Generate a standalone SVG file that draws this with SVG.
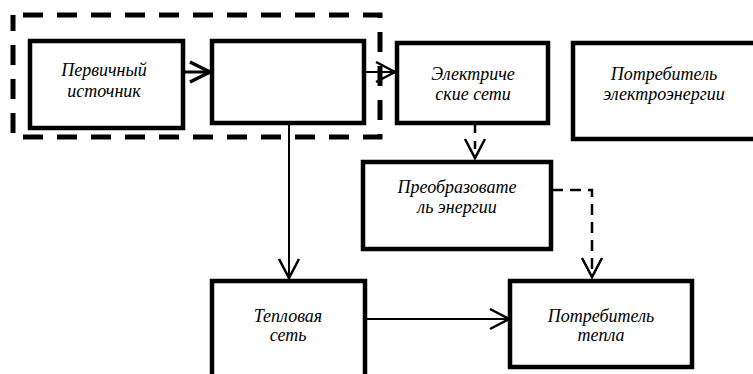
<svg xmlns="http://www.w3.org/2000/svg" width="753" height="374" viewBox="0 0 753 374">
<style>
.box{fill:#fff;stroke:#000;stroke-width:4.5}
text{font-family:'Liberation Serif','Times New Roman',serif;font-style:italic;font-size:18px;fill:#000;text-anchor:middle}
.ln{fill:none;stroke:#000;stroke-width:2}
.dl{fill:none;stroke:#000;stroke-width:2.5;stroke-dasharray:11 7}
</style>
<defs>
<marker id="ah" viewBox="-23 -13 26 26" refX="0" refY="0" markerWidth="26" markerHeight="26" markerUnits="userSpaceOnUse" orient="auto">
<path d="M-19,-10 L0,0 L-19,10" fill="none" stroke="#000" stroke-width="2.5"/>
</marker>
<marker id="ahb" viewBox="-23 -13 26 26" refX="0" refY="0" markerWidth="26" markerHeight="26" markerUnits="userSpaceOnUse" orient="auto">
<path d="M-20,-10 L0,0 L-20,10" fill="none" stroke="#000" stroke-width="3.5"/>
</marker>
</defs>
<rect width="753" height="374" fill="#fff"/>
<g id="group-frame">
<rect x="13" y="15" width="367" height="122" fill="none" stroke="#000" stroke-width="5" stroke-dasharray="20 14" stroke-dashoffset="-10"/>
</g>
<g id="connectors">
<line x1="183" y1="72" x2="210" y2="72" stroke="#000" stroke-width="3" marker-end="url(#ahb)"/>
<line x1="365" y1="72" x2="395" y2="72" class="ln" marker-end="url(#ah)"/>
<line x1="289" y1="125" x2="289" y2="278" class="ln" marker-end="url(#ah)"/>
<line x1="366" y1="319" x2="509" y2="319" class="ln" marker-end="url(#ah)"/>
<line x1="475" y1="125" x2="475" y2="158" stroke="#000" stroke-width="2.5" stroke-dasharray="8 8" marker-end="url(#ah)"/>
<polyline points="552,190 592,190 592,277" class="dl" marker-end="url(#ah)"/>
</g>
<g id="n1"><rect x="30" y="41" width="153" height="87" class="box"/>
<text x="104" y="76">Первичный</text><text x="104" y="97">источник</text></g>
<g id="n2"><rect x="212" y="41" width="152" height="82" class="box"/></g>
<g id="n3"><rect x="397" y="43" width="151" height="80" class="box"/>
<text x="473" y="80">Электриче</text><text x="473" y="100">ские сети</text></g>
<g id="n4"><rect x="573" y="43" width="190" height="96" class="box"/>
<text x="664" y="80">Потребитель</text><text x="664" y="100">электроэнергии</text></g>
<g id="n5"><rect x="363" y="162" width="188" height="87" class="box"/>
<text x="457" y="193">Преобразовате</text><text x="457" y="213">ль энергии</text></g>
<g id="n6"><rect x="510" y="281" width="182" height="86" class="box"/>
<text x="601" y="322">Потребитель</text><text x="601" y="341">тепла</text></g>
<g id="n7"><rect x="212" y="281" width="153" height="100" class="box"/>
<text x="288" y="322">Тепловая</text><text x="288" y="341">сеть</text></g>
</svg>
